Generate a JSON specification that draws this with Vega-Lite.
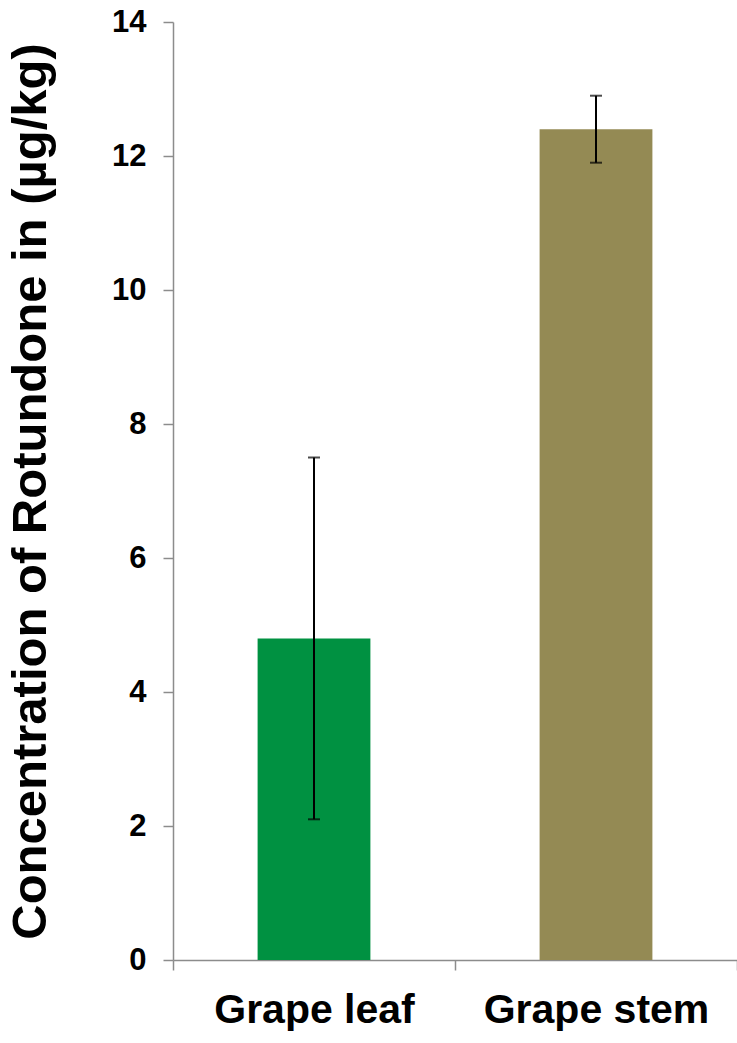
{
  "$schema": "https://vega.github.io/schema/vega-lite/v6.json",
  "width": 564,
  "height": 938,
  "autosize": {"type": "none"},
  "padding": {"left": 173, "top": 22, "right": 0, "bottom": 83},
  "background": "white",
  "config": {
    "view": {"stroke": null},
    "font": "Liberation Sans"
  },
  "data": {
    "values": [
      {"part": "Grape leaf", "value": 4.8, "low": 2.1, "high": 7.5},
      {"part": "Grape stem", "value": 12.4, "low": 11.9, "high": 12.9}
    ]
  },
  "encoding": {
    "x": {
      "field": "part",
      "type": "nominal",
      "sort": null,
      "scale": {"paddingInner": 0, "paddingOuter": 0},
      "axis": {
        "title": null,
        "labelAngle": 0,
        "labelFont": "Liberation Sans",
        "labelFontWeight": "bold",
        "labelFontSize": 41,
        "labelColor": "black",
        "labelPadding": 20,
        "labelLimit": 0,
        "labelDx": -6,
        "tickBand": "extent",
        "tickSize": 10,
        "tickColor": "#8c8c8c",
        "tickWidth": 1.5,
        "domainColor": "#8c8c8c",
        "domainWidth": 1.5
      }
    }
  },
  "layer": [
    {
      "mark": {"type": "bar", "width": {"band": 0.4}},
      "encoding": {
        "y": {
          "field": "value",
          "type": "quantitative",
          "scale": {"domain": [0, 14], "nice": false},
          "axis": {
            "title": "Concentration of Rotundone in (µg/kg)",
            "titleFont": "Liberation Sans",
            "titleFontWeight": "bold",
            "titleFontSize": 49,
            "titleColor": "black",
            "titlePadding": 56,
            "values": [0, 2, 4, 6, 8, 10, 12, 14],
            "format": "d",
            "grid": false,
            "labelFont": "Liberation Sans",
            "labelFontWeight": "bold",
            "labelFontSize": 31,
            "labelColor": "black",
            "labelPadding": 17,
            "tickSize": 10,
            "tickColor": "#8c8c8c",
            "tickWidth": 1.5,
            "domainColor": "#8c8c8c",
            "domainWidth": 1.5
          }
        },
        "color": {
          "field": "part",
          "type": "nominal",
          "scale": {"domain": ["Grape leaf", "Grape stem"], "range": ["#009141", "#948A54"]},
          "legend": null
        }
      }
    },
    {
      "mark": {"type": "rule", "color": "black", "strokeWidth": 2},
      "encoding": {
        "y": {"field": "low", "type": "quantitative"},
        "y2": {"field": "high"}
      }
    },
    {
      "mark": {"type": "tick", "color": "black", "thickness": 2, "size": 12, "orient": "horizontal"},
      "encoding": {
        "y": {"field": "low", "type": "quantitative"}
      }
    },
    {
      "mark": {"type": "tick", "color": "black", "thickness": 2, "size": 12, "orient": "horizontal"},
      "encoding": {
        "y": {"field": "high", "type": "quantitative"}
      }
    }
  ]
}
